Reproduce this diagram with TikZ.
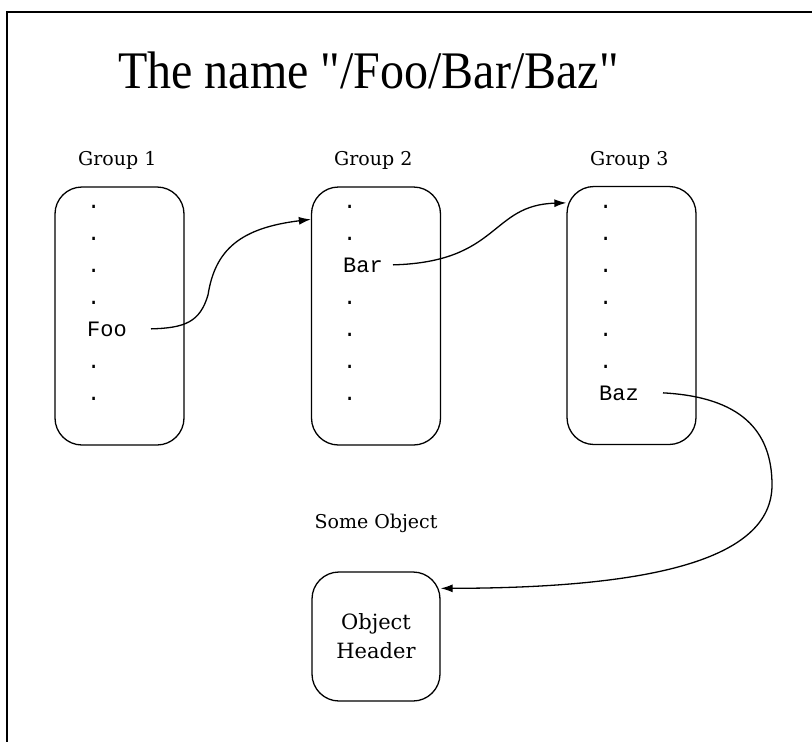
\documentclass[tikz,border=0pt]{standalone}
\usepackage{fontspec}
\setmainfont{DejaVu Serif}
\newfontfamily\codefont{Liberation Mono}
% raw font, so that the straight double quotes stay straight
\font\titlefnt="Liberation Serif" at 48pt
\usetikzlibrary{arrows.meta}

\begin{document}
\begin{tikzpicture}[x=1pt,y=-1pt,
  frame/.style={line width=2pt},
  groupbox/.style={draw, line width=1.3pt, rounded corners=27pt,
    minimum width=129pt, minimum height=258pt, inner sep=0pt},
  objbox/.style={draw, line width=1.3pt, rounded corners=27pt,
    minimum width=128pt, minimum height=129pt, inner sep=0pt,
    align=center, font=\fontsize{21}{29}\selectfont},
  caption/.style={anchor=base west, inner sep=0pt, font=\fontsize{19}{23}\selectfont},
  entry/.style={anchor=base west, inner sep=0pt, font=\codefont\fontsize{22}{26}\selectfont},
  link/.style={line width=1.3pt, -{Latex[length=12pt,width=8pt]}},
]
\useasboundingbox (0,0) rectangle (812,742);
\draw[frame] (7,742) -- (7,12) -- (812,12);

\node[anchor=base west, inner sep=0pt, font=\titlefnt] (title) at (118,88)
  {\scalebox{1}[1.1]{The name "/Foo/Bar/Baz"}};

% the three groups
\node[groupbox] (g1) at (119.5,316) {};
\node[groupbox] (g2) at (376,316) {};
\node[groupbox] (g3) at (631.5,315.5) {};

\node[caption] (lab1) at (78,165) {Group 1};
\node[caption] (lab2) at (334,165) {Group 2};
\node[caption] (lab3) at (590,165) {Group 3};

% entries of each group, one row every 32pt
\foreach \k in {0,1,2,3,5,6} \node[entry] (g1d\k) at (87,208+32*\k) {.};
\node[entry] (foo) at (87,336) {Foo};
\foreach \k in {0,1,3,4,5,6} \node[entry] (g2d\k) at (343,208+32*\k) {.};
\node[entry] (bar) at (343,272) {Bar};
\foreach \k in {0,...,5} \node[entry] (g3d\k) at (599,208+32*\k) {.};
\node[entry] (baz) at (599,400) {Baz};

% the object
\node[caption, anchor=base] (lab4) at (376,528) {Some Object};
\node[objbox] (obj) at (376,636.5) {Object\\Header};

% links
\draw[link] ([xshift=24pt]foo.east) .. controls (185,328) and (200,322) .. (208,295)
  .. controls (215,250) and (240,228) .. ([yshift=-33pt]g2.north west);
\draw[link] ([xshift=10pt]bar.east) .. controls (500,262) and (490,205)
  .. ([yshift=-17pt]g3.north west);
\draw[link] ([xshift=24pt]baz.east) .. controls (740,397) and (772,430) .. (772,485)
  .. controls (772,560) and (650,588) .. ([yshift=-17pt]obj.north east);
\end{tikzpicture}
\end{document}
